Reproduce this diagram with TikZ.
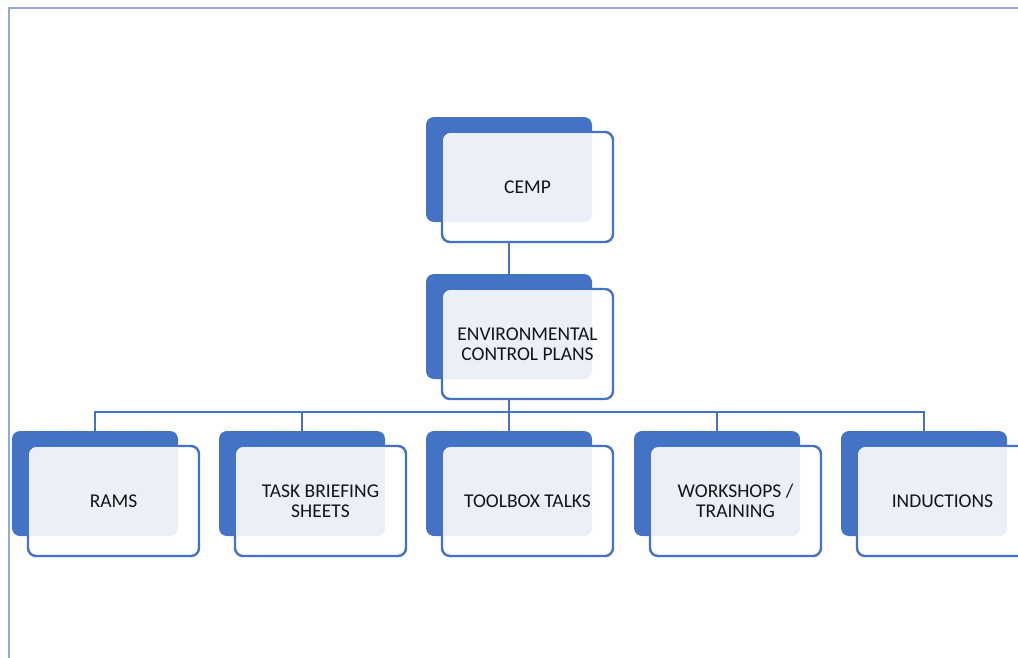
\documentclass[tikz,border=0pt]{standalone}
\usepackage{fontspec}
\setmainfont{Carlito}
\usetikzlibrary{backgrounds}
\definecolor{dblue}{HTML}{4472C4}
\definecolor{lfill}{HTML}{EAEFF8}
\definecolor{bordc}{HTML}{8FAADC}
\definecolor{textc}{HTML}{141414}
\newcommand{\chartbox}[4]{%
  \node[backbox] (#1-b) at (#2,#3) {};
  \node[frontbox] (#1) at (#2+16,#3+15) {};
  \begin{scope}
    \clip[rounded corners=7pt] (#2+17.2,#3+16.2) rectangle ++(168.6,107.6);
    \fill[lfill, rounded corners=8pt] (#2,#3) rectangle ++(166,105);
  \end{scope}
  \node[label text] (#1-t) at (#1.center) {#4};
}
\begin{document}
\begin{tikzpicture}[x=1pt,y=-1pt,
  backbox/.style={draw=none, fill=dblue, rounded corners=8pt, minimum width=166pt, minimum height=105pt, anchor=north west, inner sep=0pt, outer sep=0pt},
  frontbox/.style={draw=dblue, line width=2.4pt, fill=white, rounded corners=8pt, minimum width=171pt, minimum height=110pt, anchor=north west, inner sep=0pt, outer sep=0pt},
  label text/.style={align=center, font=\fontsize{19.5}{20}\selectfont, text=textc, inner sep=0pt},
  conn/.style={draw=dblue, line width=2.5pt}]
\useasboundingbox (0,0) rectangle (1018,657);
\clip (0,0) rectangle (1018,657);
% boxes
\chartbox{cemp}{426}{117}{CEMP}
\chartbox{ecp}{426}{274}{ENVIRONMENTAL\\CONTROL PLANS}
\chartbox{rams}{12}{431}{RAMS}
\chartbox{tbs}{219}{431}{TASK BRIEFING\\SHEETS}
\chartbox{tool}{426}{431}{TOOLBOX TALKS}
\chartbox{work}{634}{431}{WORKSHOPS /\\TRAINING}
\chartbox{ind}{841}{431}{INDUCTIONS}
\coordinate (bar) at (509,412);
\begin{pgfonlayer}{background}
  \fill[white] (0,0) rectangle (1018,657);
  \draw[bordc, line width=2pt] (9,8) rectangle (1040,680);
  \draw[conn] (cemp-b.south) -- (ecp-b.north);
  \draw[conn] (ecp-b.south) -- (bar);
  \draw[conn] (bar) -| (rams-b.north);
  \draw[conn] (bar) -| (tbs-b.north);
  \draw[conn] (bar) -- (tool-b.north);
  \draw[conn] (bar) -| (work-b.north);
  \draw[conn] (bar) -| (ind-b.north);
\end{pgfonlayer}
\end{tikzpicture}
\end{document}
